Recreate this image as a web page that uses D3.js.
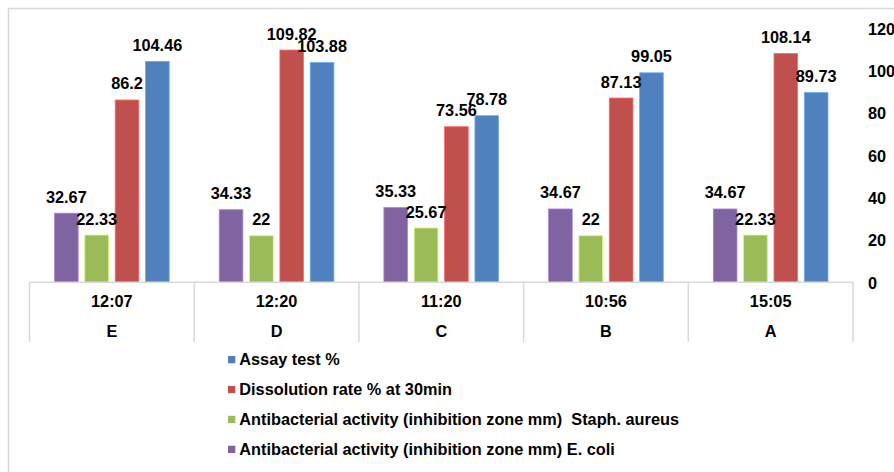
<!DOCTYPE html>
<html>
<head>
<meta charset="utf-8">
<script src="https://cdn.jsdelivr.net/npm/d3@7"></script>
<style>
  html, body { margin: 0; padding: 0; background: #fff; }
  svg { display: block; font-family: "Liberation Sans", Arial, sans-serif; font-weight: bold; }
</style>
</head>
<body>
<svg id="chart" width="894" height="472"></svg>
<script>
// ---- data ----
const categories = ["E", "D", "C", "B", "A"];
const timeLabels = ["12:07", "12:20", "11:20", "10:56", "15:05"];
const seriesNames = [
  "Antibacterial activity (inhibition zone mm) E. coli",
  "Antibacterial activity (inhibition zone mm)  Staph. aureus",
  "Dissolution rate % at 30min",
  "Assay test %"
];
const eColi = [32.67, 34.33, 35.33, 34.67, 34.67];
const staphAureus = [22.33, 22, 25.67, 22, 22.33];
const dissolution = [86.2, 109.82, 73.56, 87.13, 108.14];
const assay = [104.46, 103.88, 78.78, 99.05, 89.73];
const yTicks = [0, 20, 40, 60, 80, 100, 120];
const colors = ["#8064A2", "#9BBB59", "#C0504D", "#4F81BD"];

const seriesValues = [eColi, staphAureus, dissolution, assay];
const FS = 16.3;

const svg = d3.select("#chart");

// outer frame
svg.append("rect")
  .attr("x", 8.5).attr("y", 8.5)
  .attr("width", 1000).attr("height", 1000)
  .attr("fill", "none").attr("stroke", "#d9d9d9").attr("stroke-width", 1.5);

const plotLeft = 29.5, plotRight = 853, baseY = 282.3, topY = 28.5;

const x0 = d3.scaleBand().domain(categories).range([plotLeft, plotRight]).padding(0);
const x1 = d3.scaleBand().domain(d3.range(4))
  .range([25, x0.bandwidth() - 25]).paddingInner(0.22).paddingOuter(0);
const y = d3.scaleLinear().domain([0, 120]).range([baseY, topY]);

// bars
const groups = svg.append("g").selectAll("g")
  .data(categories)
  .join("g")
  .attr("transform", d => `translate(${x0(d)},0)`);

groups.each(function(cat, ci) {
  const g = d3.select(this);
  const vals = seriesValues.map(s => s[ci]);
  g.selectAll("rect")
    .data(vals)
    .join("rect")
    .attr("x", (d, i) => x1(i))
    .attr("y", d => y(d))
    .attr("width", x1.bandwidth())
    .attr("height", d => baseY - y(d))
    .attr("fill", (d, i) => colors[i])
    .attr("stroke", (d, i) => d3.color(colors[i]).brighter(0.8))
    .attr("stroke-width", 0.8);
  g.selectAll("text.lbl")
    .data(vals)
    .join("text")
    .attr("class", "lbl")
    .attr("x", (d, i) => x1(i) + x1.bandwidth() / 2)
    .attr("y", d => y(d) - 10.5)
    .attr("text-anchor", "middle")
    .attr("font-size", FS)
    .attr("fill", "#000")
    .text(d => d);
});

// category table lines
const lineColor = "#d9d9d9";
svg.append("line")
  .attr("x1", plotLeft).attr("x2", plotRight)
  .attr("y1", baseY).attr("y2", baseY)
  .attr("stroke", lineColor).attr("stroke-width", 1.5);
const bounds = categories.map(c => x0(c)).concat([x0.range()[1]]);
svg.append("g").selectAll("line")
  .data(bounds)
  .join("line")
  .attr("x1", d => d).attr("x2", d => d)
  .attr("y1", baseY).attr("y2", 342)
  .attr("stroke", lineColor).attr("stroke-width", 1.5);

// time labels row
const xTime = d3.scaleBand().domain(timeLabels).range([plotLeft, plotRight]).padding(0);
const axTime = svg.append("g")
  .attr("transform", `translate(0,${baseY})`)
  .call(d3.axisBottom(xTime).tickSize(0).tickPadding(0));
axTime.select(".domain").remove();
axTime.selectAll("text")
  .attr("font-family", "Liberation Sans, Arial, sans-serif")
  .attr("font-weight", "bold")
  .attr("font-size", FS).attr("fill", "#000")
  .attr("dy", null).attr("y", 25.2);

// category letters row
const axCat = svg.append("g")
  .attr("transform", `translate(0,${baseY})`)
  .call(d3.axisBottom(x0).tickSize(0).tickPadding(0));
axCat.select(".domain").remove();
axCat.selectAll("text")
  .attr("font-family", "Liberation Sans, Arial, sans-serif")
  .attr("font-weight", "bold")
  .attr("font-size", FS).attr("fill", "#000")
  .attr("dy", null).attr("y", 55.2);

// right y axis
const axY = svg.append("g")
  .attr("transform", "translate(868,0)")
  .call(d3.axisRight(y).tickValues(yTicks).tickSize(0).tickPadding(0).tickFormat(d3.format("d")));
axY.select(".domain").remove();
axY.selectAll("text")
  .attr("font-family", "Liberation Sans, Arial, sans-serif")
  .attr("font-weight", "bold")
  .attr("font-size", FS).attr("fill", "#000")
  .attr("text-anchor", "start")
  .attr("dy", "0.35em");

// legend (reverse order: assay first)
const legendOrder = [3, 2, 1, 0];
const legend = svg.append("g").selectAll("g")
  .data(legendOrder)
  .join("g")
  .attr("transform", (d, i) => `translate(228,${365 + i * 29.9})`);
legend.append("rect")
  .attr("x", 0).attr("y", -9)
  .attr("width", 7.3).attr("height", 7.3)
  .attr("fill", d => colors[d]);
legend.append("text")
  .attr("x", 11.3).attr("y", 0)
  .attr("font-size", FS).attr("fill", "#000")
  .attr("xml:space", "preserve")
  .style("white-space", "pre")
  .text(d => seriesNames[d]);
</script>
</body>
</html>
